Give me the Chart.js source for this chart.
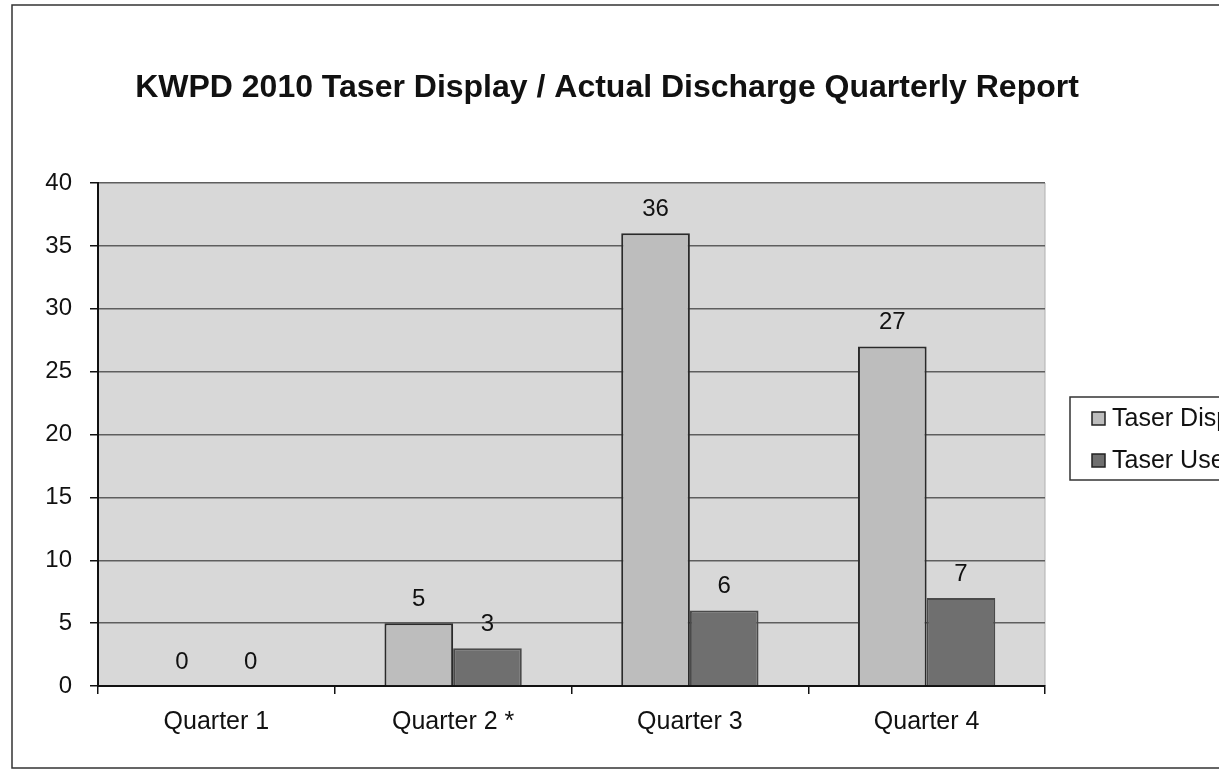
<!DOCTYPE html>
<html>
<head>
<meta charset="utf-8">
<script src="https://cdn.jsdelivr.net/npm/chart.js@4/dist/chart.umd.min.js"></script>
<style>
  html, body { margin: 0; padding: 0; background: #fff; }
  #wrap { width: 1219px; height: 772px; }
</style>
</head>
<body>
<div id="wrap"><canvas id="myCanvas" width="1219" height="772"></canvas></div>
<script>
var quarters = ["Quarter 1", "Quarter 2 *", "Quarter 3", "Quarter 4"];
var displayed = [0, 5, 36, 27];
var used = [0, 3, 6, 7];
var seriesNames = ["Taser Displayed", "Taser Used"];
var yTicks = [0, 5, 10, 15, 20, 25, 30, 35, 40];

var FONT = "'Liberation Sans', Arial, sans-serif";

// frame, plot background and title
var framePlugin = {
  id: "frame",
  beforeDraw: function (chart) {
    var ctx = chart.ctx;
    var a = chart.chartArea;
    ctx.save();
    ctx.fillStyle = "#fff";
    ctx.fillRect(0, 0, chart.width, chart.height);
    ctx.strokeStyle = "#333";
    ctx.lineWidth = 1.5;
    ctx.strokeRect(12, 5, 1400, 763);
    ctx.fillStyle = "#d8d8d8";
    ctx.fillRect(a.left, a.top, a.right - a.left, a.bottom - a.top);
    ctx.strokeStyle = "#b0b0b0";
    ctx.lineWidth = 1;
    ctx.beginPath();
    ctx.moveTo(a.right, a.top);
    ctx.lineTo(a.right, a.bottom);
    ctx.stroke();
    ctx.fillStyle = "#111";
    ctx.font = "bold 32px " + FONT;
    ctx.textAlign = "center";
    ctx.textBaseline = "alphabetic";
    ctx.fillText("KWPD 2010 Taser Display / Actual Discharge Quarterly Report", 607, 97);
    ctx.restore();
  },
  afterDraw: function (chart) {
    // legend box, cut off by the right edge like the original
    var ctx = chart.ctx;
    ctx.save();
    ctx.fillStyle = "#fff";
    ctx.fillRect(1070, 397, 200, 83);
    ctx.strokeStyle = "#333";
    ctx.lineWidth = 1.5;
    ctx.strokeRect(1070, 397, 200, 83);
    ctx.font = "25px " + FONT;
    ctx.textBaseline = "middle";
    ctx.textAlign = "left";
    chart.data.datasets.forEach(function (ds, i) {
      var cy = 418 + i * 42;
      ctx.fillStyle = ds.backgroundColor;
      ctx.fillRect(1092, cy - 6, 13, 13);
      ctx.strokeStyle = "#222";
      ctx.lineWidth = 1.5;
      ctx.strokeRect(1092, cy - 6, 13, 13);
      ctx.fillStyle = "#111";
      ctx.fillText(ds.label, 1112, cy + 1);
    });
    ctx.restore();
  }
};

// value labels above the bars
var valuePlugin = {
  id: "values",
  afterDatasetsDraw: function (chart) {
    var ctx = chart.ctx;
    ctx.save();
    ctx.font = "24px " + FONT;
    ctx.fillStyle = "#111";
    ctx.textAlign = "center";
    ctx.textBaseline = "middle";
    chart.data.datasets.forEach(function (ds, i) {
      var meta = chart.getDatasetMeta(i);
      meta.data.forEach(function (bar, j) {
        ctx.fillText(String(ds.data[j]), bar.x, bar.y - 24);
      });
    });
    ctx.restore();
  }
};

var chartData = {
  labels: quarters,
  datasets: [
    {
      label: seriesNames[0],
      backgroundColor: "#bdbdbd",
      borderColor: "#2a2a2a",
      borderWidth: 2,
      data: displayed
    },
    {
      label: seriesNames[1],
      backgroundColor: "#6f6f6f",
      borderColor: "#4a4a4a",
      borderWidth: 2,
      data: used
    }
  ]
};

var ctx = document.getElementById("myCanvas");

var bargraph = new Chart(ctx, {
  type: "bar",
  data: chartData,
  options: {
    responsive: false,
    animation: false,
    devicePixelRatio: 1,
    layout: { padding: { left: 0, top: 183, right: 174, bottom: 36 } },
    datasets: { bar: { categoryPercentage: 0.58, barPercentage: 1.0 } },
    plugins: {
      legend: { display: false },
      title: { display: false },
      tooltip: { enabled: false }
    },
    scales: {
      x: {
        afterFit: function (s) { s.height = 50; },
        grid: {
          offset: true,
          drawOnChartArea: false,
          drawTicks: true,
          tickLength: 8,
          color: "#111",
          lineWidth: 1.5
        },
        border: { color: "#111", width: 2 },
        ticks: {
          color: "#111",
          padding: 13,
          font: { family: FONT, size: 25 }
        }
      },
      y: {
        min: 0,
        max: 40,
        afterFit: function (s) { s.width = 98; },
        afterBuildTicks: function (s) {
          s.ticks = yTicks.map(function (v) { return { value: v }; });
        },
        grid: {
          color: "#5e5e5e",
          lineWidth: 1.5,
          tickLength: 8,
          tickColor: "#111"
        },
        border: { color: "#111", width: 2 },
        ticks: {
          color: "#111",
          padding: 18,
          font: { family: FONT, size: 24 }
        }
      }
    }
  },
  plugins: [framePlugin, valuePlugin]
});
</script>
</body>
</html>
